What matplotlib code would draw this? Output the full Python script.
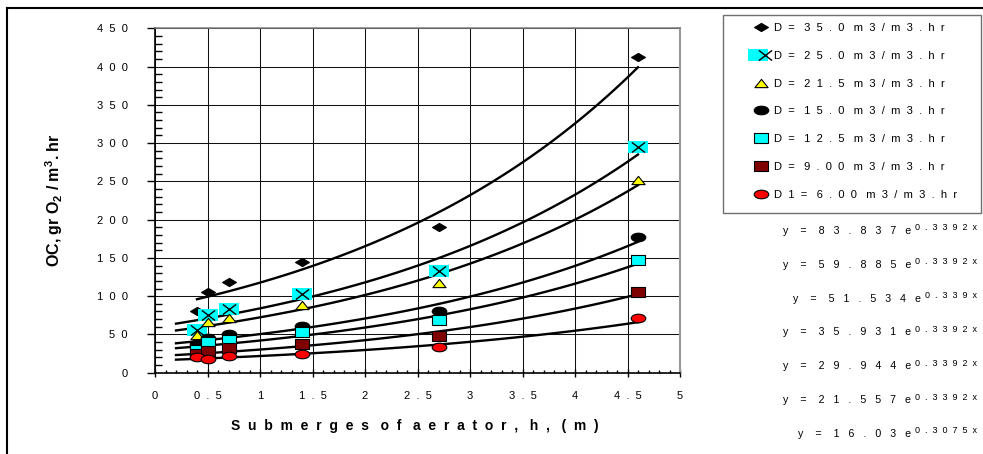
import numpy as np
import matplotlib
matplotlib.use("Agg")
import matplotlib.pyplot as plt
from matplotlib.path import Path
from matplotlib.patches import Rectangle
from matplotlib.lines import Line2D
from matplotlib.legend_handler import HandlerTuple
from matplotlib.ticker import MultipleLocator, FuncFormatter

plt.rcParams['font.family'] = ['Liberation Sans', 'DejaVu Sans']
plt.rcParams['mathtext.fontset'] = 'custom'
plt.rcParams['mathtext.rm'] = 'Liberation Sans'
plt.rcParams['mathtext.bf'] = 'Liberation Sans:bold'

# submergence depth of aerator (m)
h = [0.4, 0.5, 0.7, 1.4, 2.7, 4.6]

# oxygenation capacity, gr O2 / m3.hr, one list per air flow
oc_35 = [81, 106, 118, 144, 190, 413]
oc_25 = [56, 76, 83, 103, 133, 295]
oc_215 = [49, 66, 72, 89, 117, 252]
oc_15 = [37, 45, 50, 61, 81, 177]
oc_125 = [30, 40, 43, 53, 69, 147]
oc_9 = [24, 29, 32, 37, 48, 105]
oc_6 = [20, 18, 22, 25, 33, 72]

labels = ["D= 35.0 m3/m3.hr", "D= 25.0 m3/m3.hr", "D= 21.5 m3/m3.hr",
          "D= 15.0 m3/m3.hr", "D= 12.5 m3/m3.hr", "D= 9.00 m3/m3.hr",
          "D1= 6.00 m3/m3.hr"]

# exponential trendlines y = a e^(b x) as printed on the chart
coef_a = [83.837, 59.885, 51.534, 35.931, 29.944, 21.557, 16.03]
coef_b = [0.3392, 0.3392, 0.339, 0.3392, 0.3392, 0.3392, 0.3075]
coef_a_txt = ["83.837", "59.885", "51.534", "35.931", "29.944", "21.557", "16.03"]
coef_b_txt = ["0.3392x", "0.3392x", "0.339x", "0.3392x", "0.3392x", "0.3392x", "0.3075x"]
fit_start = [0.4, 0.2, 0.2, 0.2, 0.2, 0.2, 0.2]
fit_end = 4.6


def wide(s, n=2):
    # fake the letter spacing of the original by padding with spaces
    return (" " * (n + 1)).join((" " * n).join(w) for w in s.split(" "))


def stretched(verts):
    return Path(verts + [verts[0]], closed=True)


diamond = stretched([(0, 1), (1.7, 0), (0, -1), (-1.7, 0)])
rect_wide = stretched([(-1.55, -1), (1.55, -1), (1.55, 1), (-1.55, 1)])
square = stretched([(-1.45, -1), (1.45, -1), (1.45, 1), (-1.45, 1)])
triangle = stretched([(0, 1), (1.6, -1), (-1.6, -1)])
cross = Path([(-1.3, -1), (1.3, 1), (-1.3, 1), (1.3, -1)],
             [Path.MOVETO, Path.LINETO, Path.MOVETO, Path.LINETO])
circ = Path.unit_circle()
ellipse = Path(circ.vertices * [1.7, 1], circ.codes)

W, H = 983, 454
fig = plt.figure(figsize=(W / 100, H / 100), dpi=100)


def fx(px):
    return px / W


def fy(py):
    return 1 - py / H


ax = fig.add_axes([fx(155), fy(372.7), (680 - 155) / W, (372.7 - 28.3) / H])

# trendlines under the markers
for a, b, x0 in zip(coef_a, coef_b, fit_start):
    xx = np.linspace(x0, fit_end, 60)
    ax.plot(xx, a * np.exp(b * xx), color='black', lw=1.7, zorder=2)

ms_kw = dict(linestyle='none', markeredgecolor='black', markeredgewidth=0.8)
hd35, = ax.plot(h, oc_35, marker=diamond, ms=10, color='black', zorder=3, **ms_kw)
hd25a, = ax.plot(h, oc_25, marker=rect_wide, ms=14.5, color='#00FFFF',
                 markeredgewidth=0, linestyle='none', zorder=4)
hd25b, = ax.plot(h, oc_25, marker=cross, ms=9.5, color='black',
                 markeredgewidth=1, linestyle='none', zorder=4)
hd215, = ax.plot(h, oc_215, marker=triangle, ms=9.5, color='#FFFF00', zorder=5, **ms_kw)
hd15, = ax.plot(h, oc_15, marker=ellipse, ms=10.5, color='black', zorder=6, **ms_kw)
hd125, = ax.plot(h, oc_125, marker=square, ms=9.5, color='#00FFFF', zorder=7, **ms_kw)
hd9, = ax.plot(h, oc_9, marker=square, ms=9.5, color='#800000', zorder=8, **ms_kw)
hd6, = ax.plot(h, oc_6, marker=ellipse, ms=10.5, color='#FF0000', zorder=9, **ms_kw)

ax.set_xlim(0, 5)
ax.set_ylim(0, 450)
ax.xaxis.set_major_locator(MultipleLocator(0.5))
ax.xaxis.set_minor_locator(MultipleLocator(0.1))
ax.yaxis.set_major_locator(MultipleLocator(50))
ax.yaxis.set_minor_locator(MultipleLocator(10))
ax.xaxis.set_major_formatter(FuncFormatter(lambda v, p: wide(f"{v:g}", 2)))
ax.yaxis.set_major_formatter(FuncFormatter(lambda v, p: wide(f"{v:g}", 2)))
ax.grid(which='major', color='#111111', lw=0.75)
ax.set_axisbelow(True)

ax.tick_params(axis='y', which='major', direction='out', length=6, width=1,
               pad=13.5, labelsize=8)
ax.tick_params(axis='y', which='minor', direction='in', length=5, width=1)
ax.tick_params(axis='x', which='major', direction='inout', length=6, width=1,
               pad=10, labelsize=8)
ax.tick_params(axis='x', which='minor', direction='in', length=2.5, width=1)

for side in ['left', 'bottom']:
    ax.spines[side].set_linewidth(1.2)
    ax.spines[side].set_color('black')
ax.spines['top'].set_color('#808080')
ax.spines['top'].set_linewidth(1.1)
ax.spines['right'].set_color('#999999')
ax.spines['right'].set_linewidth(1.5)

ax.set_xlabel(wide("Submerges of aerator, h, (m)", 2), fontsize=10, fontweight='bold')
ax.xaxis.set_label_coords(0.495, -0.133)
ax.set_ylabel(r"OC, gr O$_{\mathbf{2}}$ / m$^{\mathbf{3}}$. hr", fontsize=11.5,
              fontweight='bold')
ax.yaxis.set_label_coords(-0.172, 0.5)

# legend
handles = [hd35, (hd25a, hd25b), hd215, hd15, hd125, hd9, hd6]
fig.legend(handles, [wide(s, 2) for s in labels], loc='upper left',
           bbox_to_anchor=(fx(753.7), fy(23)), frameon=False, borderpad=0,
           borderaxespad=0, handlelength=1.4, handletextpad=0.42,
           labelspacing=1.6, fontsize=8, numpoints=1,
           handler_map={tuple: HandlerTuple(ndivide=None)})
fig.add_artist(Rectangle((fx(723), fy(213)), (981 - 723) / W, (213 - 15) / H,
                         transform=fig.transFigure, fill=False,
                         edgecolor='#707070', lw=1))

# trendline equations, exponent written as a raised smaller text
for k, (a_txt, b_txt) in enumerate(zip(coef_a_txt, coef_b_txt)):
    top = 223.5 + 33.8 * k
    e = fig.text(fx(977), fy(top), wide(b_txt, 2), fontsize=6.5,
                 ha='right', va='top')
    ax.annotate(wide("y = " + a_txt + "e", 3), xy=(0, 1), xycoords=e,
                xytext=(-4, -2.5), textcoords='offset pixels', ha='right',
                va='top', fontsize=7.7, annotation_clip=False)

# outer chart border
fig.add_artist(Line2D([fx(7), fx(7)], [fy(8), 0], color='black', lw=1.5))
fig.add_artist(Line2D([fx(7), 1], [fy(8), fy(8)], color='black', lw=1.5))

fig.savefig("out.png", dpi=100)
